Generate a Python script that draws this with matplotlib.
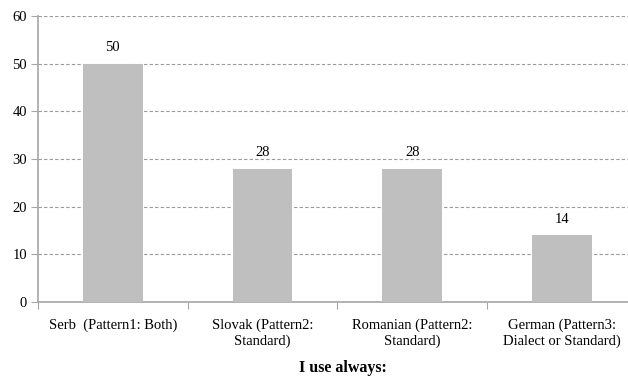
import matplotlib.pyplot as plt
import numpy as np

categories = [
    "Serb  (Pattern1: Both)",
    "Slovak (Pattern2:\nStandard)",
    "Romanian (Pattern2:\nStandard)",
    "German (Pattern3:\nDialect or Standard)",
]
values = [50, 28, 28, 14]
yticks = [0, 10, 20, 30, 40, 50, 60]
xlabel = "I use always:"

plt.rcParams["font.family"] = ["Liberation Serif", "DejaVu Serif"]

W, H = 628, 378
fig = plt.figure(figsize=(W / 100, H / 100), dpi=100)
# plot area: left edge at x=38, category pitch ~149.7 px, runs past the right edge
left, right = 38, 38 + 4 * 149.7
top, bottom = 16, 302
ax = fig.add_axes([left / W, 1 - bottom / H, (right - left) / W, (bottom - top) / H])

x = np.arange(len(values))
ax.bar(x, values, width=0.4, color="#BFBFBF", zorder=3)
ax.set_xlim(-0.5, len(values) - 0.5)
ax.set_ylim(0, 60)
ax.set_yticks(yticks)

for xi, v in zip(x, values):
    ax.text(xi, v + 2.0, f"{v}", ha="center", va="bottom", fontsize=10.5, color="#000000", zorder=4)

ax.yaxis.grid(True, linestyle=(0, (3, 2)), color="#9A9A9A", linewidth=0.8, zorder=0)
ax.set_axisbelow(True)

for s in ["top", "right"]:
    ax.spines[s].set_visible(False)
for s in ["left", "bottom"]:
    ax.spines[s].set_color("#A6A6A6")
    ax.spines[s].set_linewidth(1.2)

ax.tick_params(axis="y", length=5, color="#A6A6A6", labelsize=10.5, pad=3)
ax.set_xticks(np.arange(len(values) + 1) - 0.5)
ax.set_xticklabels([])
ax.tick_params(axis="x", which="major", length=5, color="#A6A6A6", direction="out")
ax.set_xticks(x, minor=True)
ax.set_xticklabels(categories, minor=True, fontsize=10.5, linespacing=1.2)
ax.tick_params(axis="x", which="minor", length=0, pad=12)

ax.set_xlabel(xlabel, fontsize=11.5, fontweight="bold")
ax.xaxis.set_label_coords((343 - left) / (right - left), -(368.5 - bottom) / (bottom - top))
ax.xaxis.label.set_va("center")

fig.savefig("out.png", dpi=100)
